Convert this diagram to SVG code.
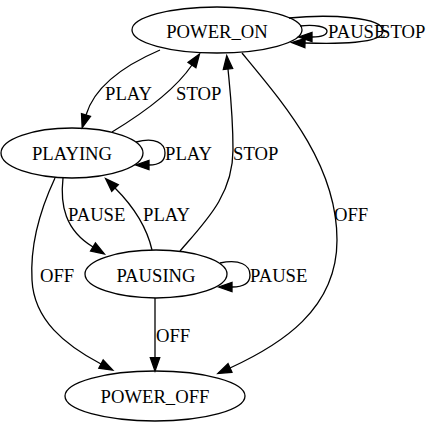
<svg xmlns="http://www.w3.org/2000/svg" width="435" height="426" viewBox="0 0 435 426">
<style>
.node ellipse{fill:none;stroke:#000;stroke-width:1.3}
.edge{fill:none;stroke:#000;stroke-width:1.3}
text{font-family:"Liberation Serif","Times New Roman",serif;font-size:18.67px;fill:#000}
.n{text-anchor:middle}
</style>
<defs>
<marker id="arr" markerUnits="userSpaceOnUse" markerWidth="15" markerHeight="12" refX="0" refY="6" orient="auto" overflow="visible">
<path d="M0,1.3 L13.3,6 L0,10.7 z" fill="#000" stroke="#000" stroke-width="1.3"/>
</marker>
</defs>
<rect width="435" height="426" fill="#fff"/>
<g id="connectors">
<path class="edge" marker-end="url(#arr)" d="M160,50 C125,65 95,85 86,115"/>
<path class="edge" marker-end="url(#arr)" d="M112,132 C145,112 175,90 192,65"/>
<path class="edge" marker-end="url(#arr)" d="M180,251 C205,222 233,195 233,150 C233,115 230,90 228,69"/>
<path class="edge" marker-end="url(#arr)" d="M242,53 C285,105 337,165 337,240 C337,310 280,345 230,368"/>
<path class="edge" marker-end="url(#arr)" d="M63,178 C60,205 65,230 93,247"/>
<path class="edge" marker-end="url(#arr)" d="M152,250 C147,228 135,208 115,188"/>
<path class="edge" marker-end="url(#arr)" d="M55,178 C40,210 30,245 32,280 C34,320 65,345 101,364"/>
<path class="edge" marker-end="url(#arr)" d="M155,298 L155,357.7"/>
<path class="edge" marker-end="url(#arr)" d="M136,142 C155,137 165,143 165,153 C165,162 158,165 149,165"/>
<path class="edge" marker-end="url(#arr)" d="M220,263 C240,259 250,265 250,275 C250,284 243,287 232,287"/>
<path class="edge" marker-end="url(#arr)" d="M300,26 C315,24 327,27 327,31 C327,35 322,37 312,37"/>
<path class="edge" marker-end="url(#arr)" d="M289,18 C330,14 383,17 383,31 C383,44 335,44 305,43"/>
<text x="105" y="100">PLAY</text>
<text x="176" y="100">STOP</text>
<text x="165" y="160">PLAY</text>
<text x="233" y="160">STOP</text>
<text x="334" y="221">OFF</text>
<text x="68" y="221">PAUSE</text>
<text x="143" y="221">PLAY</text>
<text x="40" y="282">OFF</text>
<text x="250" y="282">PAUSE</text>
<text x="156" y="342">OFF</text>
<text x="328" y="38">PAUSE</text>
<text x="380" y="38">STOP</text>
</g>
<g id="POWER_ON" class="node">
<ellipse cx="217" cy="30" rx="85" ry="23"/>
<text class="n" x="217" y="38">POWER_ON</text>
</g>
<g id="PLAYING" class="node">
<ellipse cx="72" cy="153" rx="71" ry="25"/>
<text class="n" x="72" y="160">PLAYING</text>
</g>
<g id="PAUSING" class="node">
<ellipse cx="156" cy="274" rx="71" ry="24"/>
<text class="n" x="156" y="282">PAUSING</text>
</g>
<g id="POWER_OFF" class="node">
<ellipse cx="155" cy="396" rx="90" ry="25"/>
<text class="n" x="155" y="403">POWER_OFF</text>
</g>
</svg>
